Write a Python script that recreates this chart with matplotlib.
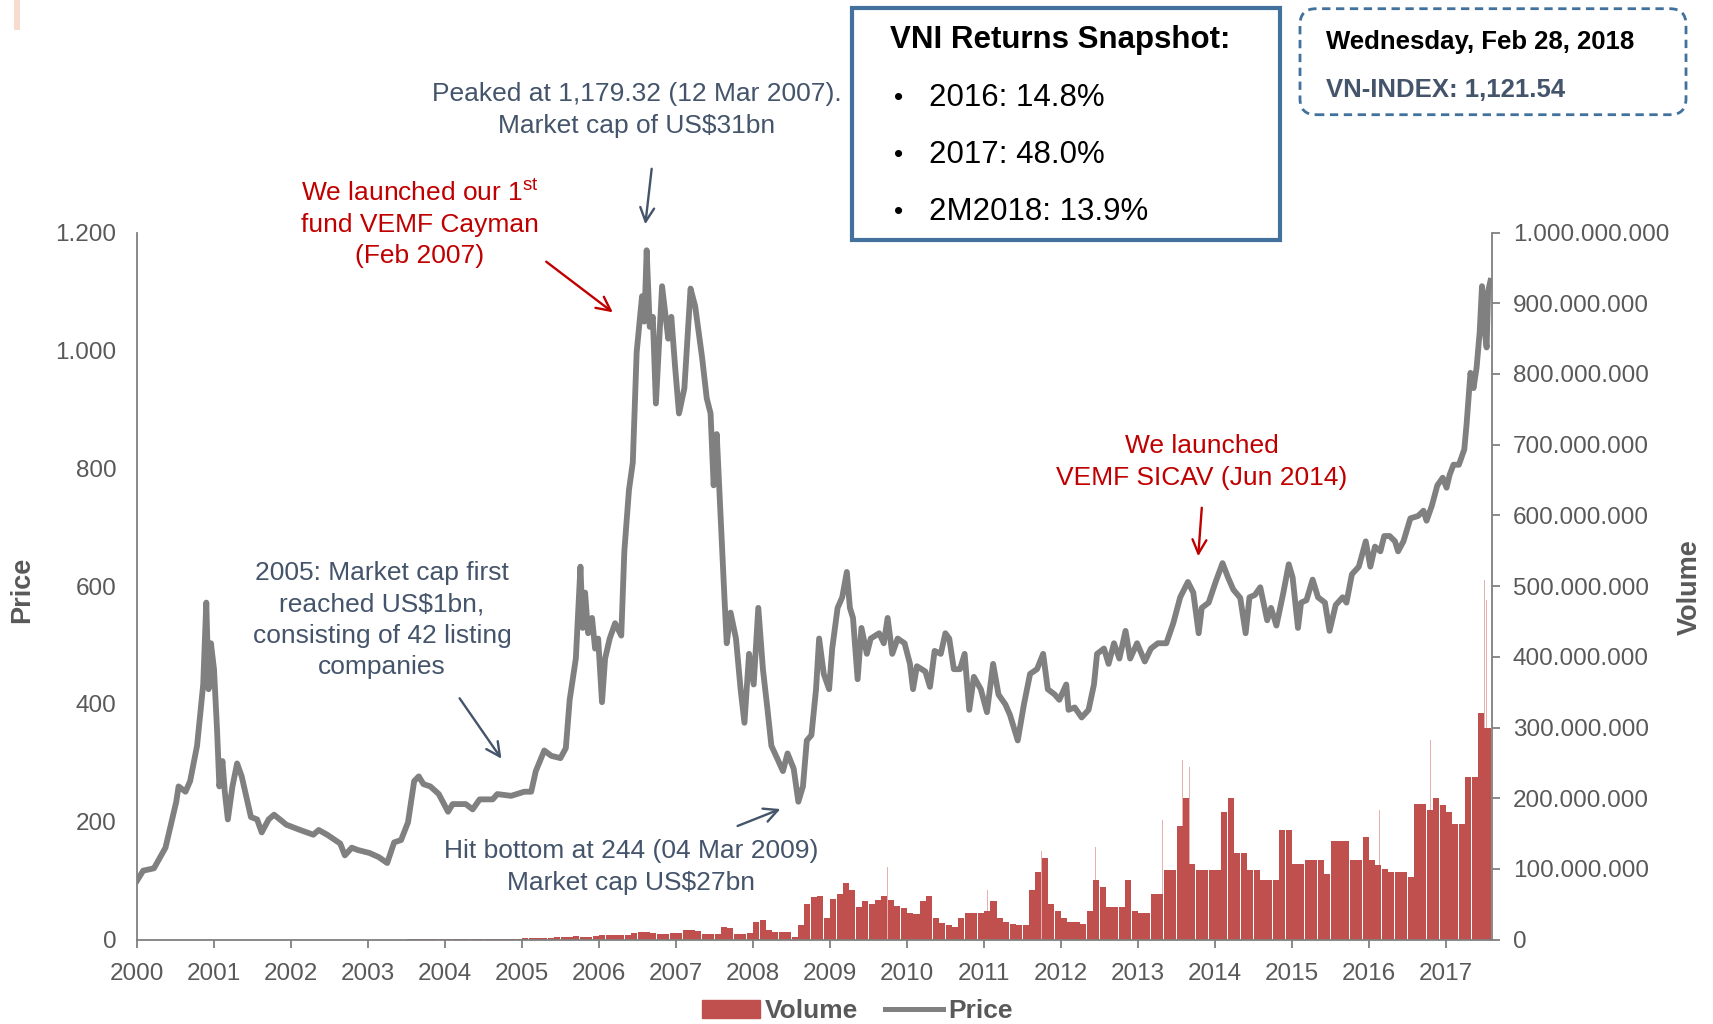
import numpy as np
import matplotlib
matplotlib.use("Agg")
import matplotlib.pyplot as plt
from matplotlib.patches import Rectangle, FancyBboxPatch, FancyArrowPatch, Patch
from matplotlib.lines import Line2D
from matplotlib.ticker import FuncFormatter, FixedLocator

plt.rcParams['font.family'] = ['Liberation Sans', 'DejaVu Sans']
plt.rcParams['mathtext.default'] = 'regular'

# price line (x in axis-label years, VN-Index level)
price_x = [2000.00, 2000.08, 2000.22, 2000.37, 2000.51, 2000.54, 2000.63, 2000.69, 2000.78, 2000.86,
           2000.90, 2000.93, 2000.96, 2001.00, 2001.04, 2001.07, 2001.11, 2001.14, 2001.18, 2001.24,
           2001.30, 2001.36, 2001.48, 2001.56, 2001.62, 2001.71, 2001.78, 2001.94, 2002.12, 2002.29,
           2002.36, 2002.47, 2002.64, 2002.70, 2002.79, 2002.87, 2003.02, 2003.14, 2003.25, 2003.34,
           2003.43, 2003.52, 2003.60, 2003.66, 2003.72, 2003.81, 2003.92, 2004.04, 2004.10, 2004.27,
           2004.36, 2004.45, 2004.62, 2004.68, 2004.86, 2005.03, 2005.12, 2005.18, 2005.29, 2005.38,
           2005.50, 2005.57, 2005.62, 2005.70, 2005.76, 2005.79, 2005.82, 2005.86, 2005.91, 2005.95,
           2005.99, 2006.04, 2006.08, 2006.14, 2006.21, 2006.29, 2006.33, 2006.39, 2006.44, 2006.49,
           2006.56, 2006.59, 2006.62, 2006.66, 2006.70, 2006.74, 2006.82, 2006.90, 2006.94, 2006.99,
           2007.04, 2007.11, 2007.19, 2007.25, 2007.34, 2007.40, 2007.45, 2007.49, 2007.53, 2007.58,
           2007.63, 2007.66, 2007.71, 2007.78, 2007.84, 2007.89, 2007.95, 2008.01, 2008.07, 2008.13,
           2008.19, 2008.24, 2008.30, 2008.39, 2008.45, 2008.53, 2008.59, 2008.65, 2008.70, 2008.76,
           2008.82, 2008.86, 2008.92, 2008.99, 2009.03, 2009.10, 2009.16, 2009.22, 2009.26, 2009.30,
           2009.36, 2009.41, 2009.48, 2009.53, 2009.64, 2009.70, 2009.75, 2009.81, 2009.88, 2009.97,
           2010.04, 2010.08, 2010.13, 2010.24, 2010.30, 2010.36, 2010.44, 2010.50, 2010.55, 2010.61,
           2010.69, 2010.75, 2010.81, 2010.87, 2010.96, 2011.04, 2011.12, 2011.19, 2011.28, 2011.34,
           2011.44, 2011.52, 2011.60, 2011.69, 2011.77, 2011.83, 2011.92, 2011.98, 2012.07, 2012.10,
           2012.18, 2012.27, 2012.36, 2012.43, 2012.47, 2012.56, 2012.62, 2012.69, 2012.76, 2012.84,
           2012.90, 2012.99, 2013.09, 2013.17, 2013.26, 2013.37, 2013.46, 2013.55, 2013.65, 2013.72,
           2013.79, 2013.83, 2013.92, 2014.01, 2014.10, 2014.17, 2014.24, 2014.33, 2014.40, 2014.45,
           2014.52, 2014.59, 2014.68, 2014.73, 2014.80, 2014.89, 2014.96, 2015.01, 2015.08, 2015.12,
           2015.19, 2015.27, 2015.34, 2015.43, 2015.49, 2015.57, 2015.66, 2015.71, 2015.78, 2015.87,
           2015.96, 2016.02, 2016.08, 2016.15, 2016.20, 2016.27, 2016.34, 2016.38, 2016.45, 2016.54,
           2016.64, 2016.71, 2016.75, 2016.82, 2016.89, 2016.96, 2017.01, 2017.05, 2017.10, 2017.17,
           2017.24, 2017.27, 2017.32, 2017.36, 2017.40, 2017.44, 2017.47, 2017.50, 2017.53, 2017.55,
           2017.58]
price_y = [100, 117, 121, 156, 234, 260, 251, 269, 329, 433,
           572, 425, 503, 459, 355, 260, 303, 251, 204, 260,
           299, 277, 208, 204, 182, 204, 212, 195, 186, 178,
           186, 178, 163, 143, 156, 152, 147, 140, 130, 165,
           169, 199, 269, 277, 264, 260, 247, 217, 230, 230,
           221, 238, 238, 247, 244, 251, 251, 286, 321, 312,
           308, 325, 407, 477, 633, 529, 589, 520, 546, 494,
           511, 403, 477, 511, 537, 516, 659, 763, 810, 997,
           1092, 1049, 1170, 1040, 1057, 910, 1109, 1020, 1057, 971,
           893, 936, 1105, 1075, 988, 919, 893, 771, 858, 719,
           581, 503, 555, 511, 425, 368, 485, 433, 563, 459,
           390, 329, 312, 286, 316, 290, 234, 260, 338, 347,
           425, 511, 451, 425, 494, 563, 581, 624, 563, 546,
           442, 529, 485, 511, 520, 503, 546, 485, 511, 503,
           468, 425, 464, 455, 429, 490, 485, 520, 511, 459,
           459, 485, 390, 446, 425, 386, 468, 416, 399, 381,
           338, 399, 451, 459, 485, 425, 416, 407, 433, 390,
           394, 377, 390, 433, 485, 494, 468, 503, 477, 524,
           477, 503, 472, 494, 503, 503, 537, 581, 607, 589,
           520, 563, 572, 607, 639, 615, 594, 580, 520, 581,
           585, 598, 542, 563, 533, 589, 637, 615, 529, 572,
           576, 611, 581, 572, 524, 568, 581, 572, 620, 633,
           676, 633, 667, 659, 685, 685, 676, 659, 676, 715,
           719, 728, 711, 737, 771, 784, 767, 789, 806, 806,
           832, 875, 962, 936, 971, 1031, 1109, 1040, 1005, 1101,
           1118]

# monthly traded volume, millions of shares (Jan 2000 .. Jul 2017)
vol_2000 = [0] * 12
vol_2001 = [0] * 12
vol_2002 = [0] * 12
vol_2003 = [0, 0, 0, 0, 0, 0, 0.5, 0.5, 0.5, 1, 1, 1]
vol_2004 = [1, 1, 1, 1, 1.5, 1, 1, 1.5, 1, 1, 1.5, 1.5]
vol_2005 = [2, 2, 2, 2, 2, 3, 3, 4, 5, 4, 4, 5]
vol_2006 = [6, 6, 6, 6, 7, 10, 11, 11, 9, 8, 8, 9]
vol_2007 = [10, 14, 14, 12, 8, 8, 8, 18, 16, 8, 8, 10]
vol_2008 = [25, 28, 14, 11, 11, 11, 4, 20, 51, 60, 62, 30]
vol_2009 = [58, 65, 80, 70, 46, 54, 50, 56, 62, 56, 48, 44]
vol_2010 = [38, 36, 55, 62, 30, 24, 20, 18, 30, 37, 37, 38]
vol_2011 = [40, 55, 30, 25, 22, 20, 20, 70, 95, 115, 50, 40]
vol_2012 = [30, 25, 25, 22, 40, 84, 75, 46, 46, 46, 84, 40]
vol_2013 = [37, 37, 65, 65, 98, 98, 160, 200, 107, 98, 98, 98]
vol_2014 = [98, 180, 200, 122, 122, 98, 98, 84, 84, 84, 155, 155]
vol_2015 = [107, 107, 112, 112, 112, 93, 140, 140, 140, 112, 112, 145]
vol_2016 = [112, 105, 100, 95, 95, 95, 89, 192, 192, 183, 200, 190]
vol_2017 = [180, 164, 164, 230, 230, 320, 300]

# single-day volume spikes (year, millions)
spike_x = [2009.22, 2009.75, 2010.35, 2011.05, 2011.75, 2012.45, 2013.32, 2013.58, 2013.67, 2014.12,
           2015.91, 2016.14, 2016.38, 2016.65, 2016.80, 2017.04, 2017.29, 2017.35, 2017.47, 2017.50,
           2017.53]
spike_y = [131, 103, 122, 70, 126, 131, 169, 254, 244, 243,
           261, 183, 192, 254, 283, 306, 585, 358, 375, 509,
           481]

x_ticks = list(range(2000, 2018))
price_ticks = [0, 200, 400, 600, 800, 1000, 1200]
vol_ticks = [0, 1e8, 2e8, 3e8, 4e8, 5e8, 6e8, 7e8, 8e8, 9e8, 1e9]

snapshot = ['2016: 14.8%', '2017: 48.0%', '2M2018: 13.9%']

GREY = '#595959'
SLATE = '#44546A'
RED = '#C00000'
BOX = '#41719C'
BAR = '#C0504D'

fig = plt.figure(figsize=(17.13, 10.24), dpi=100)
ax = fig.add_axes([137 / 1713, 84.4 / 1024, (1492 - 137) / 1713, 707 / 1024])
ax2 = ax.twinx()
ax.set_zorder(ax2.get_zorder() + 1)
ax.patch.set_visible(False)

volume = np.array(vol_2000 + vol_2001 + vol_2002 + vol_2003 + vol_2004 + vol_2005 + vol_2006
                  + vol_2007 + vol_2008 + vol_2009 + vol_2010 + vol_2011 + vol_2012 + vol_2013
                  + vol_2014 + vol_2015 + vol_2016 + vol_2017) * 1e6
months = 2000 + (np.arange(len(volume)) + 0.5) / 12
ax2.bar(spike_x, np.array(spike_y) * 1e6, width=0.006, color='#E6B0AE', linewidth=0)
ax2.bar(months, volume, width=1 / 12 * 0.94, color=BAR, linewidth=0)

ax.plot(price_x, price_y, color='#808080', lw=4.2, solid_joinstyle='round')

ax.set_xlim(2000, 2017.6)
ax.set_ylim(0, 1200)
ax2.set_ylim(0, 1e9)

dots = FuncFormatter(lambda v, p: f"{v:,.0f}".replace(',', '.'))
ax.yaxis.set_major_locator(FixedLocator(price_ticks))
ax.yaxis.set_major_formatter(dots)
ax2.yaxis.set_major_locator(FixedLocator(vol_ticks))
ax2.yaxis.set_major_formatter(dots)
ax.set_xticks(x_ticks)
ax.set_xticklabels([str(t) for t in x_ticks])

for a in (ax, ax2):
    a.spines['top'].set_visible(False)
    for s in ('left', 'right', 'bottom'):
        a.spines[s].set_color('#808080')
        a.spines[s].set_linewidth(1.3)
ax.spines['right'].set_visible(False)
ax2.spines['left'].set_visible(False)
ax2.spines['bottom'].set_visible(False)

ax.tick_params(axis='y', length=0, pad=15, labelsize=17.5, labelcolor=GREY)
ax.tick_params(axis='x', length=6, width=1.3, color='#808080', pad=11, labelsize=17.5, labelcolor=GREY)
ax2.tick_params(axis='y', length=6, width=1.3, color='#808080', pad=9, labelsize=17.5, labelcolor=GREY)

fig.text(22 / 1713, 1 - 590 / 1024, 'Price', rotation=90, ha='center', va='center',
         fontsize=19.5, fontweight='bold', color=GREY)
fig.text(1690 / 1713, 1 - 587 / 1024, 'Volume', rotation=90, ha='center', va='center',
         fontsize=19.5, fontweight='bold', color=GREY)

T = fig.dpi_scale_trans


def px(x, y):
    return (x / 100, (1024 - y) / 100)


def note(x, y, s, color):
    fig.text(*px(x, y), s, transform=T, ha='center', va='center', fontsize=19,
             color=color, linespacing=1.37)


def arrow(x0, y0, x1, y1, color):
    fig.add_artist(FancyArrowPatch(px(x0, y0), px(x1, y1), transform=T, arrowstyle='->,head_length=10,head_width=5',
                                   mutation_scale=1, color=color, lw=1.7))


note(637, 110, 'Peaked at 1,179.32 (12 Mar 2007).\nMarket cap of US$31bn', SLATE)
arrow(652, 166, 645, 227, SLATE)
note(420, 224, 'We launched our 1$^{st}$\nfund VEMF Cayman\n(Feb 2007)', RED)
arrow(544, 260, 615, 314, RED)
note(382, 620, '2005: Market cap first\nreached US$1bn,\nconsisting of 42 listing\ncompanies', SLATE)
arrow(458, 696, 503, 761, SLATE)
note(631, 867, 'Hit bottom at 244 (04 Mar 2009)\nMarket cap US$27bn', SLATE)
arrow(735, 827, 783, 808, SLATE)
note(1202, 462, 'We launched\nVEMF SICAV (Jun 2014)', RED)
arrow(1202, 505, 1198, 559, RED)

# returns snapshot box
fig.add_artist(Rectangle(px(852, 240), 4.28, 2.324, transform=T, fill=True, fc='white', ec=BOX, lw=3))
fig.text(*px(890, 40), 'VNI Returns Snapshot:', transform=T, ha='left', va='center',
         fontsize=22.5, fontweight='bold', color='black')
for i, s in enumerate(snapshot):
    y = 98 + i * 57
    fig.text(*px(894, y), '•', transform=T, ha='left', va='center', fontsize=19, color='black')
    fig.text(*px(929, y), s, transform=T, ha='left', va='center', fontsize=22.5, color='black')

# date box
fig.add_artist(FancyBboxPatch(px(1300, 114.7), 3.86, 1.06, transform=T,
                              boxstyle='round,pad=0,rounding_size=0.16', fill=False,
                              ec=BOX, lw=2, ls=(0, (3, 2))))
fig.text(*px(1326, 42), 'Wednesday, Feb 28, 2018', transform=T, ha='left', va='center',
         fontsize=18.5, fontweight='bold', color='black')
fig.text(*px(1326, 90), 'VN-INDEX: 1,121.54', transform=T, ha='left', va='center',
         fontsize=18.5, fontweight='bold', color=SLATE)

# faint logo remnant top-left
fig.add_artist(Rectangle(px(14, 30), 0.06, 0.30, transform=T, fc='#F2C3AE', ec='none', alpha=0.6))

handles = [Patch(color=BAR), Line2D([0], [0], color='#808080', lw=3.6)]
fig.legend(handles, ['Volume', 'Price'], loc='center', bbox_to_anchor=(857 / 1713, 1 - 1011 / 1024),
           ncol=2, frameon=False, prop={'size': 19, 'weight': 'bold'}, labelcolor=GREY,
           handlelength=2.2, handletextpad=0.2, columnspacing=1.0)

fig.savefig('out.png', dpi=100)
